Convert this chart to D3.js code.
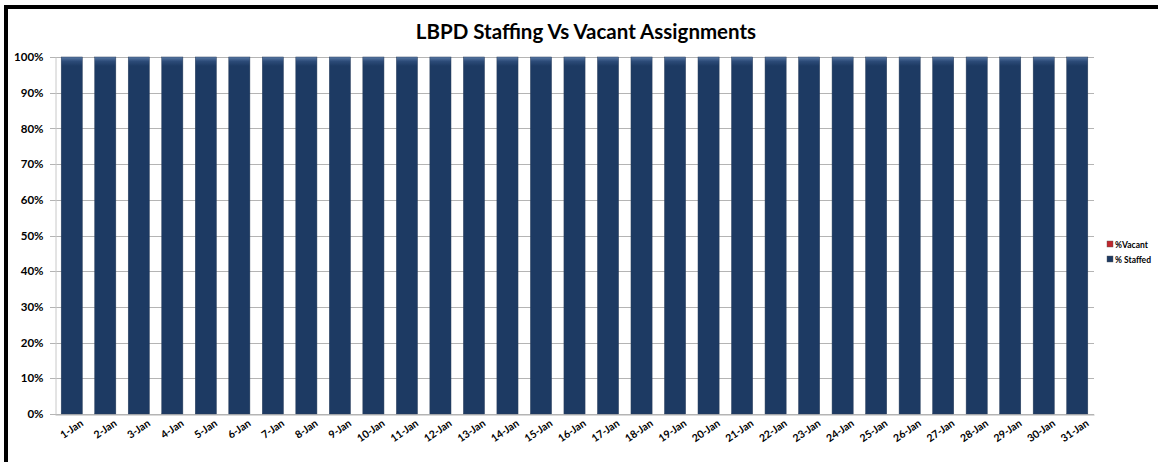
<!DOCTYPE html>
<html>
<head>
<meta charset="utf-8">
<script src="https://cdn.jsdelivr.net/npm/d3@7"></script>
<style>
  body { margin: 0; background: #fff; }
  text { font-family: Lato, "Open Sans", sans-serif; font-weight: bold; fill: #000; }
</style>
</head>
<body>
<script>
var width = 1158,
    height = 462;

// data
var days = d3.range(1, 32).map(d => d + "-Jan");
var staffed = days.map(() => 1.0);
var vacant = days.map(() => 0.0);
var yTicks = [0, 0.1, 0.2, 0.3, 0.4, 0.5, 0.6, 0.7, 0.8, 0.9, 1.0];
var seriesNames = ["%Vacant", "% Staffed"];
var seriesColors = ["#c0272d", "#1d3a63"];

var svg = d3.select('body')
    .append('svg')
    .attr('width', width)
    .attr('height', height);

// frame (top + left border)
svg.append('rect').attr('x', 0).attr('y', 0).attr('width', width).attr('height', height).attr('fill', '#fff');
svg.append('line').attr('x1', 6).attr('x2', width).attr('y1', 7).attr('y2', 7).attr('stroke', '#000').attr('stroke-width', 4);
svg.append('line').attr('x1', 6).attr('x2', 6).attr('y1', 5).attr('y2', height).attr('stroke', '#000').attr('stroke-width', 4);

var defs = svg.append('defs');
var grad = defs.append('linearGradient').attr('id', 'barg').attr('x1', 0).attr('x2', 0).attr('y1', 0).attr('y2', 1);
grad.append('stop').attr('offset', '0%').attr('stop-color', '#5a7aa6');
grad.append('stop').attr('offset', '1.2%').attr('stop-color', '#2c4b78');
grad.append('stop').attr('offset', '2.5%').attr('stop-color', seriesColors[1]);
grad.append('stop').attr('offset', '100%').attr('stop-color', seriesColors[1]);

var m = {left: 55, right: 1094, top: 57, bottom: 414};

var x = d3.scaleBand()
    .domain(days)
    .range([m.left, m.right])
    .paddingInner(0.37)
    .paddingOuter(0.185);

var y = d3.scaleLinear()
    .domain([0, 1])
    .range([m.bottom, m.top]);

// gridlines
svg.append('g').selectAll('line')
    .data(yTicks)
    .enter()
    .append('line')
    .attr('x1', m.left - 5)
    .attr('x2', m.right)
    .attr('y1', d => Math.round(y(d)) + 0.5)
    .attr('y2', d => Math.round(y(d)) + 0.5)
    .attr('stroke', '#b4b4b4')
    .attr('stroke-width', 1);

// y axis
var yAxis = svg.append('g')
    .attr('transform', 'translate(' + (m.left + 0.5) + ',0)')
    .call(d3.axisLeft(y).tickValues(yTicks).tickFormat(d3.format('.0%')).tickSize(0).tickPadding(12));
yAxis.select('.domain').attr('stroke', '#c8c8c8');
yAxis.selectAll('text').style('font-size', '11.5px');

// stacked bars
var stack = d3.stack().keys(['staffed', 'vacant'])(days.map((d, i) => ({day: d, staffed: staffed[i], vacant: vacant[i]})));
var fills = {staffed: 'url(#barg)', vacant: seriesColors[0]};

svg.append('g').selectAll('g')
    .data(stack)
    .enter()
    .append('g')
    .attr('fill', s => fills[s.key])
    .selectAll('rect')
    .data(s => s)
    .enter()
    .append('rect')
    .attr('x', d => x(d.data.day))
    .attr('width', x.bandwidth())
    .attr('y', d => y(d[1]))
    .attr('height', d => y(d[0]) - y(d[1]))
    .attr('stroke', '#2a3f5c')
    .attr('stroke-width', 0.5);

// x axis
var xAxis = svg.append('g')
    .attr('transform', 'translate(0,' + (m.bottom + 0.5) + ')')
    .call(d3.axisBottom(x).tickSize(0).tickPadding(6));
xAxis.select('.domain').attr('stroke', '#b4b4b4');
xAxis.selectAll('text')
    .style('font-size', '10.5px')
    .style('text-anchor', 'end')
    .attr('dx', '0.4em')
    .attr('dy', '0.9em')
    .attr('transform', 'rotate(-35)');

// title
svg.append('text')
    .attr('x', 586)
    .attr('y', 39)
    .attr('text-anchor', 'middle')
    .style('font-size', '20.5px')
    .text('LBPD Staffing Vs Vacant Assignments');

// legend
var lg = svg.append('g').selectAll('g')
    .data(seriesNames)
    .enter()
    .append('g')
    .attr('transform', (d, i) => 'translate(1107,' + (241 + i * 15) + ')');
lg.append('rect')
    .attr('width', 6).attr('height', 6)
    .attr('fill', (d, i) => seriesColors[i])
    .attr('stroke', '#555').attr('stroke-width', 0.4);
lg.append('text')
    .attr('x', 8).attr('y', 6.5)
    .style('font-size', '8.5px')
    .text(d => d);
</script>
</body>
</html>
